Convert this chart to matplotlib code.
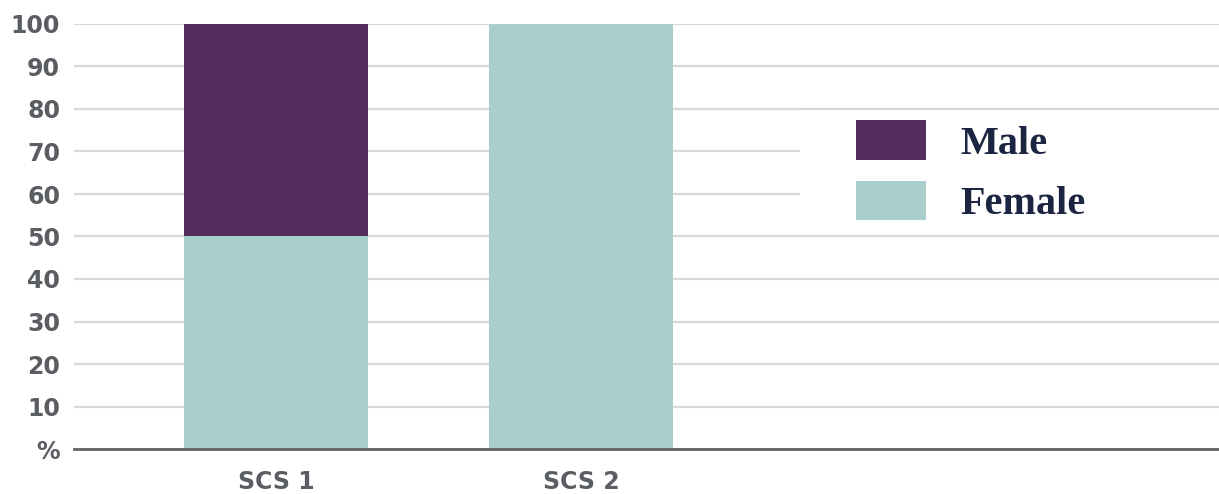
import matplotlib.pyplot as plt
from matplotlib.patches import Rectangle

# share of each group per scheme, in %
groups = ["SCS 1", "SCS 2"]
female = [50, 100]
male = [50, 0]
yticks = [0, 10, 20, 30, 40, 50, 60, 70, 80, 90, 100]
ylabels = ["%", "10", "20", "30", "40", "50", "60", "70", "80", "90", "100"]

c_male = "#532d5d"
c_female = "#a9cfcc"
c_text = "#5a5d61"

fig = plt.figure(figsize=(12.19, 4.94), dpi=100)
ax = fig.add_axes([74 / 1219, 45 / 494, 1145 / 1219, 425 / 494])

x = list(range(len(groups)))
b1 = ax.bar(x, female, width=0.603, color=c_female, label="Female", zorder=3)
b2 = ax.bar(x, male, width=0.603, bottom=female, color=c_male, label="Male", zorder=3)

ax.set_xlim(-0.662, 3.092)
ax.set_ylim(0, 100)
ax.set_yticks(yticks)
ax.set_yticklabels(ylabels)
ax.set_xticks(x)
ax.set_xticklabels(groups)
for lab in ax.get_yticklabels() + ax.get_xticklabels():
    lab.set_fontfamily("DejaVu Sans")
    lab.set_fontweight("bold")
    lab.set_fontsize(17)
    lab.set_color(c_text)
ax.tick_params(axis="y", length=0, pad=10)
ax.tick_params(axis="x", length=0, pad=15)

ax.yaxis.grid(True, color="#d9d9d9", linewidth=1.6, zorder=0)
ax.set_axisbelow(True)
for s in ["top", "right", "left"]:
    ax.spines[s].set_visible(False)
ax.spines["bottom"].set_color("#5f6368")
ax.spines["bottom"].set_linewidth(2)
ax.spines["bottom"].set_zorder(4)

# white box behind the legend hides the grid there
ax.add_patch(Rectangle((800 / 1219, (494 - 230) / 494), 1, 120 / 494,
                       transform=fig.transFigure, facecolor="white",
                       edgecolor="none", zorder=1))

leg = ax.legend(handles=[b2, b1], loc="upper left",
                bbox_to_anchor=(856 / 1219, (494 - 120) / 494),
                bbox_transform=fig.transFigure, frameon=False,
                prop={"family": "Liberation Serif", "weight": "bold", "size": 29},
                handlelength=1.75, handleheight=1.14, handletextpad=0.85,
                labelspacing=0.45, borderpad=0, borderaxespad=0)
for t in leg.get_texts():
    t.set_color("#1b2440")

fig.savefig("out.png", dpi=100)
